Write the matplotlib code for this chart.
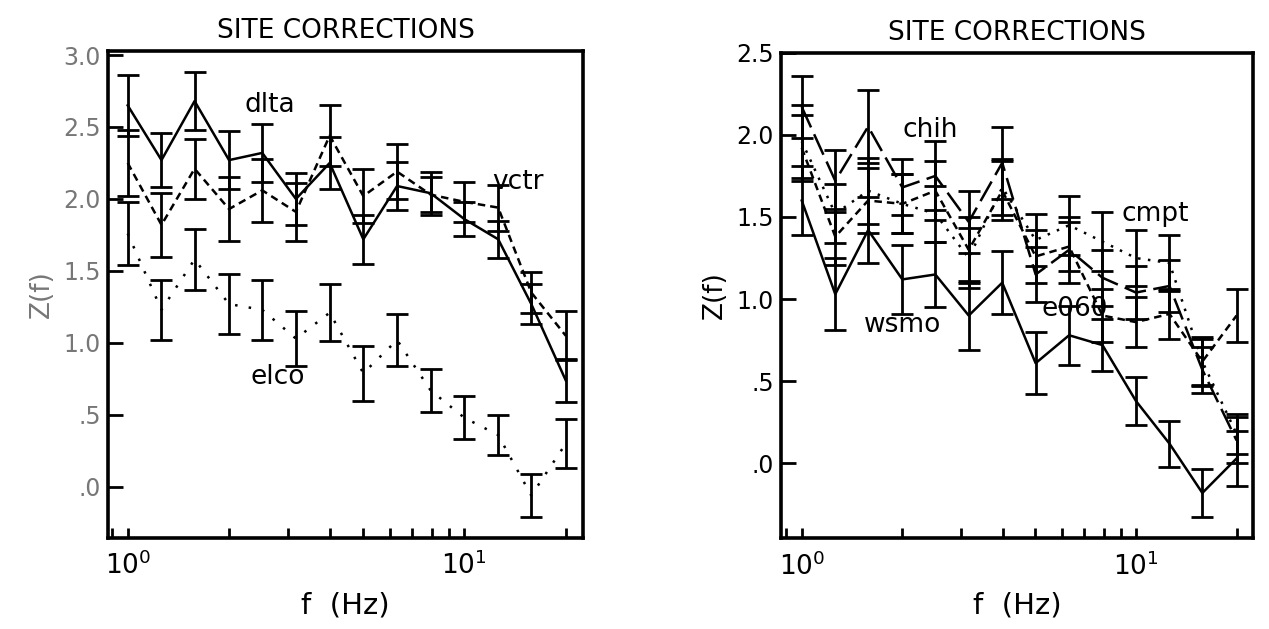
import matplotlib
matplotlib.use("Agg")
import matplotlib.pyplot as plt
from matplotlib.ticker import FixedLocator, FixedFormatter, LogLocator, NullFormatter

plt.rcParams['font.family'] = ['DejaVu Sans']

freq = [1.0, 1.26, 1.58, 2.0, 2.51, 3.16, 3.98, 5.01, 6.31, 7.94, 10.0, 12.6, 15.8, 20.0]

# left panel stations
dlta = [2.65, 2.27, 2.68, 2.27, 2.32, 2.00, 2.25, 1.72, 2.09, 2.04, 1.86, 1.72, 1.27, 0.74]
dlta_err = [0.21, 0.19, 0.20, 0.20, 0.20, 0.18, 0.18, 0.17, 0.17, 0.15, 0.12, 0.13, 0.14, 0.15]
vctr = [2.25, 1.82, 2.21, 1.93, 2.06, 1.91, 2.44, 2.02, 2.19, 2.03, 1.98, 1.94, 1.35, 1.05]
vctr_err = [0.23, 0.22, 0.21, 0.22, 0.22, 0.20, 0.21, 0.19, 0.19, 0.12, 0.14, 0.16, 0.14, 0.17]
elco = [1.76, 1.23, 1.58, 1.27, 1.23, 1.03, 1.21, 0.79, 1.02, 0.67, 0.48, 0.36, -0.06, 0.30]
elco_err = [0.22, 0.21, 0.21, 0.21, 0.21, 0.19, 0.20, 0.19, 0.18, 0.15, 0.15, 0.14, 0.15, 0.17]

# right panel stations
wsmo = [1.60, 1.03, 1.42, 1.12, 1.15, 0.90, 1.10, 0.61, 0.78, 0.72, 0.38, 0.12, -0.18, 0.03]
wsmo_err = [0.21, 0.22, 0.20, 0.21, 0.20, 0.21, 0.19, 0.19, 0.18, 0.16, 0.145, 0.14, 0.145, 0.17]
chih = [2.17, 1.72, 2.05, 1.68, 1.75, 1.47, 1.83, 1.15, 1.30, 1.13, 1.04, 1.08, 0.57, 0.14]
chih_err = [0.19, 0.19, 0.22, 0.17, 0.21, 0.19, 0.22, 0.17, 0.20, 0.17, 0.16, 0.16, 0.14, 0.14]
e060 = [1.92, 1.38, 1.60, 1.58, 1.66, 1.30, 1.66, 1.26, 1.32, 0.90, 0.86, 0.91, 0.62, 0.90]
e060_err = [0.20, 0.17, 0.20, 0.18, 0.18, 0.20, 0.18, 0.16, 0.15, 0.16, 0.15, 0.15, 0.14, 0.16]
cmpt = [1.96, 1.52, 1.66, 1.58, 1.52, 1.25, 1.68, 1.36, 1.45, 1.35, 1.25, 1.22, 0.62, 0.18]
cmpt_err = [0.22, 0.18, 0.20, 0.18, 0.17, 0.18, 0.17, 0.16, 0.18, 0.18, 0.17, 0.17, 0.15, 0.12]

left_yticks = [0.0, 0.5, 1.0, 1.5, 2.0, 2.5, 3.0]
left_ylabels = ['.0', '.5', '1.0', '1.5', '2.0', '2.5', '3.0']
right_yticks = [0.0, 0.5, 1.0, 1.5, 2.0, 2.5]
right_ylabels = ['.0', '.5', '1.0', '1.5', '2.0', '2.5']


def draw_series(ax, y, err, ls):
    ax.errorbar(freq, y, yerr=err, fmt='none', ecolor='k', elinewidth=2.0,
                capsize=8, capthick=2.0, zorder=3)
    ax.plot(freq, y, color='k', linestyle=ls, linewidth=1.8, zorder=4)


def style_axes(ax, yticks, ylabels, ylim, xlim, labcol):
    ax.set_xscale('log')
    ax.set_xlim(*xlim)
    ax.set_ylim(*ylim)
    ax.xaxis.set_major_locator(LogLocator(base=10))
    ax.xaxis.set_minor_locator(LogLocator(base=10, subs=range(2, 10)))
    ax.xaxis.set_minor_formatter(NullFormatter())
    ax.yaxis.set_major_locator(FixedLocator(yticks))
    ax.yaxis.set_major_formatter(FixedFormatter(ylabels))
    ax.tick_params(axis='both', which='both', direction='in', top=False, right=False,
                   width=2, color='k')
    ax.tick_params(axis='x', which='both', length=7, labelsize=19, pad=10)
    ax.tick_params(axis='y', which='major', length=11, labelsize=17, pad=5,
                   labelcolor=labcol)
    for sp in ax.spines.values():
        sp.set_linewidth(2.6)
    ax.set_title('SITE CORRECTIONS', fontsize=19, pad=9.5)
    ax.set_xlabel('f  (Hz)', fontsize=21, labelpad=8)
    ax.set_ylabel('Z(f)', fontsize=19, labelpad=6, color=labcol)


fig = plt.figure(figsize=(12.69, 6.29), dpi=100)
ax1 = fig.add_axes([0.0851, 0.1447, 0.3743, 0.7747])
ax2 = fig.add_axes([0.6152, 0.1442, 0.3722, 0.7720])

draw_series(ax1, dlta, dlta_err, '-')
draw_series(ax1, vctr, vctr_err, (0, (3, 2)))
draw_series(ax1, elco, elco_err, (0, (1, 4.5)))
ax1.text(2.23, 2.65, 'dlta', fontsize=19, va='center')
ax1.text(12.1, 2.12, 'vctr', fontsize=19, va='center')
ax1.text(2.31, 0.76, 'elco', fontsize=19, va='center')
style_axes(ax1, left_yticks, left_ylabels, (-0.355, 3.03), (0.874, 22.5), '#777777')

draw_series(ax2, wsmo, wsmo_err, '-')
draw_series(ax2, chih, chih_err, (0, (9, 3)))
draw_series(ax2, e060, e060_err, (0, (3, 2)))
draw_series(ax2, cmpt, cmpt_err, (0, (1, 3)))
ax2.text(2.0, 2.03, 'chih', fontsize=19, va='center')
ax2.text(9.08, 1.52, 'cmpt', fontsize=19, va='center')
ax2.text(1.53, 0.84, 'wsmo', fontsize=19, va='center')
ax2.text(5.23, 0.94, 'e060', fontsize=19, va='center')
style_axes(ax2, right_yticks, right_ylabels, (-0.456, 2.5), (0.865, 22.4), 'k')

fig.savefig('out.png', dpi=100)
